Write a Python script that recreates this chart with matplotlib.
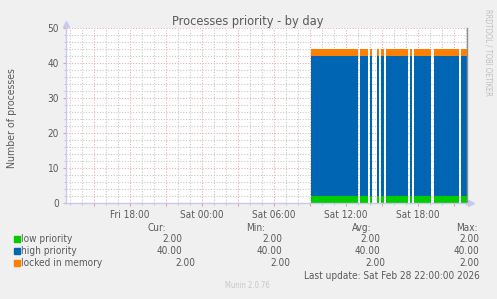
import numpy as np
import matplotlib
matplotlib.use("Agg")
import matplotlib.pyplot as plt
from matplotlib.ticker import MultipleLocator

# data (time in hours relative to Sat 00:00)
seg_start = ["09:05", "13:10", "14:00", "14:35", "14:55", "15:20", "17:20", "17:40", "19:20", "21:35"]
seg_end = ["13:00", "13:50", "14:10", "14:45", "15:10", "17:10", "17:30", "19:05", "21:25", "22:05"]
low_prio = [2, 2, 2, 2, 2, 2, 2, 2, 2, 2]
high_prio = [40, 40, 40, 40, 40, 40, 40, 40, 40, 40]
locked_mem = [2, 2, 2, 2, 2, 2, 2, 2, 2, 2]

series_names = ["low priority", "high priority", "locked in memory"]
series_colors = ["#00CC00", "#0066B3", "#FF8000"]
cur_vals = ["2.00", "40.00", "2.00"]
min_vals = ["2.00", "40.00", "2.00"]
avg_vals = ["2.00", "40.00", "2.00"]
max_vals = ["2.00", "40.00", "2.00"]

xtick_pos = [-6, 0, 6, 12, 18]
xtick_labels = ["Fri 18:00", "Sat 00:00", "Sat 06:00", "Sat 12:00", "Sat 18:00"]
x_min, x_max = -11.333, 22.083


def to_h(s):
    h, m = s.split(":")
    return int(h) + int(m) / 60


starts = np.array([to_h(s) for s in seg_start])
ends = np.array([to_h(s) for s in seg_end])
widths = ends - starts

W, H = 497, 299
FONT = dict(family="DejaVu Sans", fontstretch="condensed")
TXT = "#5a5a5a"

fig = plt.figure(figsize=(W / 100, H / 100), dpi=100)
fig.patch.set_facecolor("#F0F0F0")


def px(x, y):
    return x / W, 1 - y / H


l, r, t, b = 66, 467, 28, 203
ax = fig.add_axes([l / W, 1 - b / H, (r - l) / W, (b - t) / H])
ax.set_facecolor("white")

low = np.array(low_prio)
high = np.array(high_prio)
lock = np.array(locked_mem)
ax.bar(starts, low, width=widths, align="edge", color=series_colors[0], linewidth=0, zorder=3)
ax.bar(starts, high, width=widths, bottom=low, align="edge", color=series_colors[1], linewidth=0, zorder=3)
ax.bar(starts, lock, width=widths, bottom=low + high, align="edge", color=series_colors[2], linewidth=0, zorder=3)

ax.set_xlim(x_min, x_max)
ax.set_ylim(0, 50)

# grid: minor every hour / 2 units, major every 3 hours / 10 units
ax.xaxis.set_major_locator(MultipleLocator(3))
ax.xaxis.set_minor_locator(MultipleLocator(1))
ax.yaxis.set_major_locator(MultipleLocator(10))
ax.yaxis.set_minor_locator(MultipleLocator(2))
ax.grid(which="minor", color="#c8c8c8", linestyle=(0, (1, 1.5)), linewidth=0.8, zorder=1)
ax.grid(which="major", color="#e6b0b0", linestyle=(0, (1, 1.5)), linewidth=0.8, zorder=2)

xt = ax.get_xticks()
xt = [v for v in xt if x_min <= v <= x_max]
ax.set_xticks(xt)
lab_map = dict(zip(xtick_pos, xtick_labels))
ax.set_xticklabels([lab_map.get(int(round(v)), "") if abs(v - round(v)) < 1e-6 else "" for v in xt])

ax.tick_params(which="major", length=2, width=0.8, color="#e6a0a0", labelsize=7.2,
               labelcolor=TXT, pad=3)
ax.tick_params(which="minor", length=1.5, width=0.6, color="#c0c0c0")
for lab in ax.get_xticklabels() + ax.get_yticklabels():
    lab.set_fontstretch("condensed")

ax.spines["top"].set_visible(False)
ax.spines["left"].set_color("#c8c8f0")
ax.spines["bottom"].set_color("#c8c8f0")
ax.spines["right"].set_color("#909090")
for s in ["left", "bottom", "right"]:
    ax.spines[s].set_linewidth(1)
    ax.spines[s].set_zorder(4)

ax.plot([0], [1.025], marker="^", ms=4, color="#c8c8f0", transform=ax.transAxes, clip_on=False)
ax.plot([1.01], [0], marker=">", ms=4, color="#c8c8f0", transform=ax.transAxes, clip_on=False)

# texts
fig.text(*px(248, 21), "Processes priority - by day", ha="center", va="center",
         fontsize=9.2, color=TXT, **FONT)
fig.text(*px(12, 118), "Number of processes", ha="center", va="center", rotation=90,
         fontsize=7.6, color=TXT, **FONT)
fig.text(*px(488, 52), "RRDTOOL / TOBI OETIKER", ha="center", va="center", rotation=270,
         fontsize=5.5, color="#c0c0c0", **FONT)

# legend
fs = 7.2
fig.text(*px(157, 228), "Cur:", ha="center", va="center", fontsize=fs, color=TXT, **FONT)
fig.text(*px(256, 228), "Min:", ha="center", va="center", fontsize=fs, color=TXT, **FONT)
fig.text(*px(362, 228), "Avg:", ha="center", va="center", fontsize=fs, color=TXT, **FONT)
fig.text(*px(467, 228), "Max:", ha="center", va="center", fontsize=fs, color=TXT, **FONT)

rows_y = [239, 251, 263]
cur_x = [182, 182, 195]
min_x = [282, 282, 290]
avg_x = [380, 380, 385]
max_x = [479, 479, 479]
for i, name in enumerate(series_names):
    y = rows_y[i]
    fig.patches.append(plt.Rectangle(px(14, y + 3), 6 / W, 6 / H, color=series_colors[i],
                                     transform=fig.transFigure, figure=fig))
    fig.text(*px(21, y), name, ha="left", va="center", fontsize=fs, color=TXT, **FONT)
    fig.text(*px(cur_x[i], y), cur_vals[i], ha="right", va="center", fontsize=fs, color=TXT, **FONT)
    fig.text(*px(min_x[i], y), min_vals[i], ha="right", va="center", fontsize=fs, color=TXT, **FONT)
    fig.text(*px(avg_x[i], y), avg_vals[i], ha="right", va="center", fontsize=fs, color=TXT, **FONT)
    fig.text(*px(max_x[i], y), max_vals[i], ha="right", va="center", fontsize=fs, color=TXT, **FONT)

fig.text(*px(480, 276), "Last update: Sat Feb 28 22:00:00 2026", ha="right", va="center",
         fontsize=fs, color=TXT, **FONT)
fig.text(*px(247, 286), "Munin 2.0.76", ha="center", va="center", fontsize=5.5,
         color="#c8c8c8", **FONT)

fig.savefig("out.png", dpi=100, facecolor=fig.get_facecolor())
